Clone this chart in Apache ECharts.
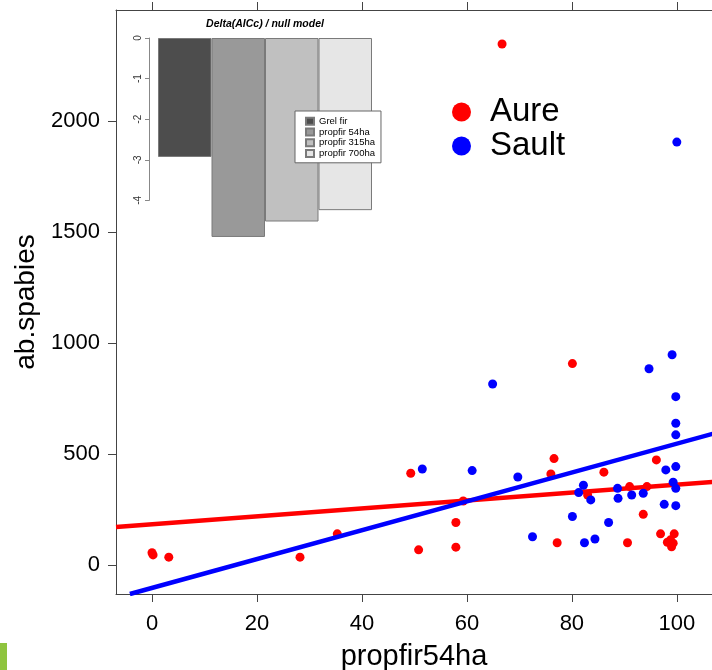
<!DOCTYPE html>
<html>
<head>
<meta charset="utf-8">
<script src="https://cdn.jsdelivr.net/npm/echarts@6/dist/echarts.min.js"></script>
<style>
html,body{margin:0;padding:0;background:#fff;}
#chart{width:712px;height:670px;}
</style>
</head>
<body>
<div id="chart"></div>
<script>
// ---- main scatter data: [propfir54ha, ab.spabies] ----
const aurePoints = [
  [0, 55], [0.2, 45], [3.2, 35], [28.2, 35], [35.3, 140], [49.3, 413], [50.8, 68],
  [57.9, 191], [57.9, 80], [59.3, 288], [66.7, 2347], [76.0, 410], [76.6, 479],
  [77.2, 100], [80.1, 907], [83.0, 315], [86.1, 418], [90.6, 100], [91.0, 353],
  [93.6, 228], [94.3, 353], [96.1, 473], [96.9, 140], [99.5, 140], [98.2, 102],
  [98.8, 113], [99.0, 82], [99.3, 98]
];
const saultPoints = [
  [51.5, 432], [61.0, 425], [64.9, 815], [69.7, 396], [72.5, 127], [80.1, 218],
  [81.3, 326], [82.2, 359], [82.4, 100], [83.6, 293], [84.4, 117], [87.0, 191],
  [88.7, 345], [88.8, 300], [91.4, 315], [93.6, 323], [94.7, 884], [97.6, 273],
  [97.9, 428], [99.1, 947], [99.3, 373], [99.8, 443], [99.8, 345], [99.8, 267],
  [99.8, 638], [99.8, 586], [99.8, 758], [100, 1905]
];
// regression fits: [intercept, slope]
const aureFit = [183.3, 1.788];
const saultFit = [-103.6, 6.50];
const seriesNames = ['Aure', 'Sault'];

// axis ranges / ticks
const xRange = [-6.86, 106.7];
const yRange = [-131, 2500];
const xTicks = [0, 20, 40, 60, 80, 100];
const yTicks = [0, 500, 1000, 1500, 2000];

// ---- inset bar chart ----
const barCategories = ['Grel fir', 'propfir 54ha', 'propfir 315ha', 'propfir 700ha'];
const barValues = [-2.93, -4.90, -4.52, -4.24];
const barColors = ['#4d4d4d', '#999999', '#c0c0c0', '#e6e6e6'];

// fitted line from the axis floor/left edge to beyond the right edge
function fitLine(fit) {
  const xAtFloor = (yRange[0] - fit[0]) / fit[1];
  const x0 = Math.max(xRange[0], xAtFloor);
  const xs = [x0, xRange[1] + 5];
  return xs.map(x => [x, fit[0] + fit[1] * x]);
}

const FONT = 'Liberation Sans, Arial, Helvetica, sans-serif';
const axisColor = '#444';

const chart = echarts.init(document.getElementById('chart'), null, {renderer: 'canvas'});

const barSeries = barCategories.map((c, i) => ({
  type: 'bar', name: c, xAxisIndex: 2, yAxisIndex: 2,
  data: [barValues[i]], barGap: '0%', barCategoryGap: '0%',
  itemStyle: {color: barColors[i], borderColor: '#7a7a7a', borderWidth: 1},
  silent: true
}));

const option = {
  animation: false,
  backgroundColor: '#fff',
  textStyle: {fontFamily: FONT},
  grid: [
    {left: 116, top: 10, right: 0, bottom: 76, containLabel: false, outerBoundsMode: 'none'},
    {left: 158, top: 38, width: 214, height: 203, containLabel: false, outerBoundsMode: 'none'},
    {left: 149, top: 38, width: 10, height: 162.4, containLabel: false, outerBoundsMode: 'none'}
  ],
  xAxis: [
    {
      gridIndex: 0, type: 'value', min: xRange[0], max: xRange[1], position: 'bottom',
      axisLine: {show: true, onZero: false, lineStyle: {color: axisColor, width: 1}},
      axisTick: {show: true, length: 8, customValues: xTicks, lineStyle: {color: axisColor}},
      axisLabel: {customValues: xTicks, fontSize: 22, color: '#000', margin: 19, fontFamily: FONT,
        formatter: v => String(v)},
      splitLine: {show: false},
      name: 'propfir54ha', nameLocation: 'middle', nameGap: 48,
      nameTextStyle: {fontSize: 29, color: '#000', fontFamily: FONT}
    },
    {
      gridIndex: 0, type: 'value', min: xRange[0], max: xRange[1], position: 'top',
      axisLine: {show: true, onZero: false, lineStyle: {color: axisColor, width: 1}},
      axisTick: {show: true, length: 8, customValues: xTicks, lineStyle: {color: axisColor}},
      axisLabel: {show: false},
      splitLine: {show: false}
    },
    {gridIndex: 1, type: 'category', data: ['d'], show: false},
    {gridIndex: 2, type: 'value', min: 0, max: 1, show: false}
  ],
  yAxis: [
    {
      gridIndex: 0, type: 'value', min: yRange[0], max: yRange[1],
      axisLine: {show: true, onZero: false, lineStyle: {color: axisColor, width: 1}},
      axisTick: {show: true, length: 8, customValues: yTicks, lineStyle: {color: axisColor}},
      axisLabel: {customValues: yTicks, fontSize: 22, color: '#000', margin: 16, fontFamily: FONT,
        formatter: v => String(v)},
      splitLine: {show: false},
      name: 'ab.spabies', nameLocation: 'middle', nameGap: 73,
      nameTextStyle: {fontSize: 28, color: '#000', fontFamily: FONT}
    },
    {
      gridIndex: 0, type: 'value', min: yRange[0], max: yRange[1], position: 'right', show: false
    },
    {gridIndex: 1, type: 'value', min: -5, max: 0, show: false},
    {
      gridIndex: 2, type: 'value', min: -4, max: 0, interval: 1, position: 'left',
      axisLine: {show: true, onZero: false, lineStyle: {color: '#888', width: 1}},
      axisTick: {show: true, length: 4, lineStyle: {color: '#888'}},
      axisLabel: {fontSize: 10, color: '#333', rotate: 90, margin: 6, fontFamily: FONT},
      splitLine: {show: false}
    }
  ],
  legend: [
    {
      data: barCategories, orient: 'vertical', left: 295, top: 111,
      borderColor: '#666', borderWidth: 1, backgroundColor: '#fff',
      padding: [5, 6, 4, 10], itemGap: 0, itemWidth: 8, itemHeight: 7, icon: 'rect',
      selectedMode: false,
      textStyle: {fontSize: 9.5, lineHeight: 10.7, color: '#000', fontFamily: FONT}
    },
    {
      data: seriesNames, orient: 'vertical', left: 452, top: 95,
      padding: 0, itemGap: 0, itemWidth: 19, itemHeight: 19, icon: 'circle',
      selectedMode: false,
      textStyle: {fontSize: 33, lineHeight: 34, color: '#000', fontFamily: FONT, padding: [0, 0, 0, 14]}
    }
  ],
  graphic: [
    {
      type: 'text', x: 265, y: 24, z: 100,
      style: {text: 'Delta(AICc) / null model', x: 0, y: 0, align: 'center', verticalAlign: 'middle',
        font: 'italic bold 10.5px ' + FONT, fill: '#000'}
    },
    {
      type: 'rect', shape: {x: 0, y: 643, width: 7, height: 27}, style: {fill: '#8fc43f'}
    }
  ],
  series: [
    {
      type: 'scatter', name: seriesNames[0], xAxisIndex: 0, yAxisIndex: 0,
      data: aurePoints, symbolSize: 9, itemStyle: {color: '#ff0000', opacity: 1}, z: 2
    },
    {
      type: 'line', name: 'AureFit', xAxisIndex: 0, yAxisIndex: 0,
      data: fitLine(aureFit), showSymbol: false, symbol: 'none', clip: true,
      lineStyle: {color: '#ff0000', width: 4.5}, z: 3
    },
    {
      type: 'scatter', name: seriesNames[1], xAxisIndex: 0, yAxisIndex: 0,
      data: saultPoints, symbolSize: 9, itemStyle: {color: '#0000ff', opacity: 1}, z: 4
    },
    {
      type: 'line', name: 'SaultFit', xAxisIndex: 0, yAxisIndex: 0,
      data: fitLine(saultFit), showSymbol: false, symbol: 'none', clip: true,
      lineStyle: {color: '#0000ff', width: 4.5}, z: 5
    },
    ...barSeries,
    {type: 'scatter', xAxisIndex: 3, yAxisIndex: 3, data: [], silent: true}
  ]
};
chart.setOption(option);
</script>
</body>
</html>
